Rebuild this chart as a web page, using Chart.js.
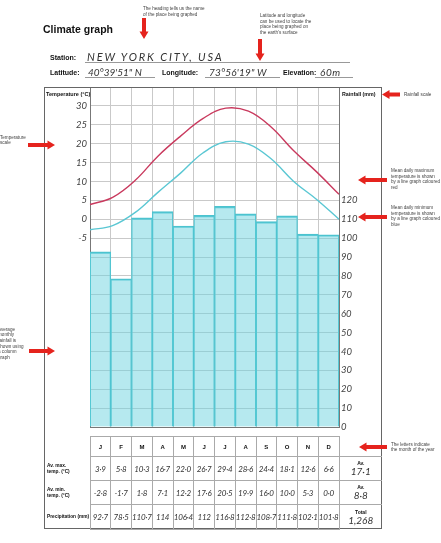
<!DOCTYPE html>
<html>
<head>
<meta charset="utf-8">
<script src="https://cdn.jsdelivr.net/npm/chart.js@4.4.0/dist/chart.umd.min.js"></script>
<style>
  html, body { margin: 0; padding: 0; background: #fff; }
  #page { position: relative; width: 441px; height: 543px; overflow: hidden; font-family: "Liberation Sans", Arial, sans-serif; }
  #grafico { position: absolute; left: 0; top: 0; }
  #dibujo { position: absolute; left: 0; top: 0; pointer-events: none; }
  .t { position: absolute; white-space: nowrap; }
  .nota { font-size: 4.6px; line-height: 5.7px; color: #444; }
  .neg { font-weight: bold; color: #111; }
  .mano { font-family: Lato, "DejaVu Sans", sans-serif; font-style: italic; font-weight: 400; color: #333; }
  #tabla { position: absolute; left: 44px; top: 436px; border-collapse: collapse; table-layout: fixed; }
  #tabla td { padding: 0; text-align: center; white-space: nowrap; overflow: visible; }
  #tabla .mes { border: 1px solid #aaa; }
  #tabla .rot { text-align: left; padding-left: 3px; font-weight: bold; font-size: 4.8px; line-height: 6px; color: #111; }
  #tabla .cab { font-weight: bold; font-size: 6px; color: #111; }
  #tabla .num { font-family: Lato, "DejaVu Sans", sans-serif; font-style: italic; font-weight: 400; font-size: 8px; color: #333; letter-spacing: -0.2px; }
  #tabla .av { border-top: 1px solid #aaa; border-left: 1px solid #999; }
  #tabla .av b { display: block; font-size: 5px; line-height: 6px; color: #111; }
  #tabla .av span { display: block; font-family: Lato, "DejaVu Sans", sans-serif; font-style: italic; font-weight: 400; font-size: 10px; line-height: 11px; color: #333; }
</style>
</head>
<body>
<div id="page">
  <canvas id="grafico" width="441" height="543"></canvas>

  <!-- marco general -->
  <div style="position:absolute;left:44px;top:87px;width:338px;height:442px;border:1px solid #666;box-sizing:border-box;"></div>

  <!-- encabezado -->
  <div class="t neg" style="left:43px;top:23px;font-size:10.5px;line-height:12px;">Climate graph</div>
  <div class="t neg" style="left:50px;top:54px;font-size:7px;line-height:8px;">Station:</div>
  <div class="t mano" style="left:87px;top:50px;font-size:11px;line-height:13px;letter-spacing:1.9px;">NEW YORK CITY, USA</div>
  <div class="t" style="left:85px;top:62px;width:265px;border-top:1px solid #999;"></div>

  <div class="t neg" style="left:50px;top:69px;font-size:7px;line-height:8px;">Latitude:</div>
  <div class="t mano" style="left:88px;top:66px;font-size:10px;line-height:12px;letter-spacing:0px;">40°39'51" N</div>
  <div class="t" style="left:85px;top:77px;width:70px;border-top:1px solid #999;"></div>
  <div class="t neg" style="left:162px;top:69px;font-size:7px;line-height:8px;">Longitude:</div>
  <div class="t mano" style="left:209px;top:66px;font-size:10px;line-height:12px;letter-spacing:0.2px;">73°56'19" W</div>
  <div class="t" style="left:205px;top:77px;width:75px;border-top:1px solid #999;"></div>
  <div class="t neg" style="left:283px;top:69px;font-size:7px;line-height:8px;">Elevation:</div>
  <div class="t mano" style="left:320px;top:66px;font-size:10px;line-height:12px;letter-spacing:0.6px;">60m</div>
  <div class="t" style="left:315px;top:77px;width:38px;border-top:1px solid #999;"></div>

  <!-- titulos de ejes -->
  <div class="t neg" style="left:46px;top:90.5px;font-size:5.5px;line-height:6px;">Temperature (°C)</div>
  <div class="t neg" style="left:342px;top:91px;font-size:5.3px;line-height:6px;">Rainfall (mm)</div>

  <!-- notas -->
  <div class="t nota" style="left:143px;top:6px;">The heading tells us the name<br>of the place being graphed</div>
  <div class="t nota" style="left:260px;top:13px;">Latitude and longitude<br>can be used to locate the<br>place being graphed on<br>the earth's surface</div>
  <div class="t nota" style="left:404px;top:91.5px;">Rainfall scale</div>
  <div class="t nota" style="left:0px;top:134.5px;line-height:5px;">Temperature<br>scale</div>
  <div class="t nota" style="left:391px;top:168px;">Mean daily maximum<br>temperature is shown<br>by a line graph coloured<br>red</div>
  <div class="t nota" style="left:391px;top:205px;">Mean daily minimum<br>temperature is shown<br>by a line graph coloured<br>blue</div>
  <div class="t nota" style="left:-2px;top:326.5px;">Average<br>monthly<br>rainfall is<br>shown using<br>a column<br>graph</div>
  <div class="t nota" style="left:391px;top:441.5px;">The letters indicate<br>the month of the year</div>

  <table id="tabla"></table>

  <svg id="dibujo" width="441" height="543"></svg>
</div>

<script>
// datos de la estación
const months = ['J', 'F', 'M', 'A', 'M', 'J', 'J', 'A', 'S', 'O', 'N', 'D'];
const maxTemp = [3.9, 5.8, 10.3, 16.7, 22.0, 26.7, 29.4, 28.6, 24.4, 18.1, 12.6, 6.6];
const minTemp = [-2.8, -1.7, 1.8, 7.1, 12.2, 17.6, 20.5, 19.9, 16.0, 10.0, 5.3, 0.0];
const rainfall = [92.7, 78.5, 110.7, 114, 106.4, 112, 116.8, 112.8, 108.7, 111.8, 102.1, 101.8];

// etiquetas de los ejes
const tempTicks = [-5, 0, 5, 10, 15, 20, 25, 30];
const rainTicks = [0, 10, 20, 30, 40, 50, 60, 70, 80, 90, 100, 110, 120];

const GRID = '#c9c9c9';
const EDGE = '#777';
const handFont = { family: 'Lato, "DejaVu Sans", sans-serif', style: 'italic', weight: 400, size: 9.5 };

const ctx = document.getElementById('grafico').getContext('2d');

new Chart(ctx, {
  data: {
    labels: months,
    datasets: [
      {
        type: 'line',
        data: maxTemp,
        xAxisID: 'x2',
        yAxisID: 'temp',
        borderColor: '#c93a5e',
        borderWidth: 1.4,
        pointRadius: 0,
        tension: 0.4,
        order: 0
      },
      {
        type: 'line',
        data: minTemp,
        xAxisID: 'x2',
        yAxisID: 'temp',
        borderColor: '#5ac7d3',
        borderWidth: 1.4,
        pointRadius: 0,
        tension: 0.4,
        order: 0
      },
      {
        type: 'bar',
        data: rainfall,
        xAxisID: 'x',
        yAxisID: 'rain',
        backgroundColor: 'rgba(110, 212, 224, 0.5)',
        borderColor: '#4cc3cf',
        borderWidth: { top: 1.5, left: 0.7, right: 0.7, bottom: 0 },
        borderSkipped: false,
        grouped: false,
        barPercentage: 1,
        categoryPercentage: 1,
        order: 1
      }
    ]
  },
  options: {
    responsive: false,
    animation: false,
    devicePixelRatio: 1,
    layout: { padding: { left: 44, top: 87, right: 59, bottom: 116 } },
    datasets: { bar: { barPercentage: 1, categoryPercentage: 1 } },
    plugins: { legend: { display: false }, tooltip: { enabled: false } },
    scales: {
      x: {
        type: 'category',
        offset: true,
        grid: { offset: true, color: GRID, drawTicks: false },
        border: { color: EDGE },
        ticks: { display: false },
        afterFit: s => { s.height = 0; }
      },
      x2: {
        type: 'category',
        offset: false,
        display: false
      },
      temp: {
        position: 'left',
        min: -55,
        max: 35,
        ticks: {
          stepSize: 5,
          padding: 3,
          color: '#444',
          font: handFont,
          callback: v => tempTicks.includes(v) ? v : ''
        },
        grid: { display: false, drawTicks: false },
        border: { color: EDGE },
        afterFit: s => { s.width = 46; }
      },
      rain: {
        position: 'right',
        min: 0,
        max: 180,
        ticks: {
          stepSize: 10,
          padding: 2,
          color: '#444',
          font: handFont,
          callback: v => rainTicks.includes(v) ? v : ''
        },
        grid: { color: GRID, drawTicks: false },
        border: { color: EDGE },
        afterFit: s => { s.width = 43; }
      }
    }
  }
});

// tabla de valores
const fmt = v => (Number.isInteger(v) && Math.abs(v) >= 100 ? String(v) : v.toFixed(1)).replace('.', '·');
const mean = a => a.reduce((s, v) => s + v, 0) / a.length;
const total = rainfall.reduce((s, v) => s + v, 0);

let html = '<colgroup><col style="width:46px">';
months.forEach(() => { html += '<col style="width:20.75px">'; });
html += '<col style="width:43px"></colgroup>';

html += '<tr style="height:20px"><td></td>';
months.forEach(m => { html += `<td class="mes cab">${m}</td>`; });
html += '<td></td></tr>';

const rows = [
  ['Av. max.<br>temp. (°C)', maxTemp, 'Av.', mean(maxTemp).toFixed(1).replace('.', '·'), 24],
  ['Av. min.<br>temp. (°C)', minTemp, 'Av.', mean(minTemp).toFixed(1).replace('.', '·'), 24],
  ['Precipitation (mm)', rainfall, 'Total', Math.round(total).toLocaleString('en-US'), 25]
];
rows.forEach(([label, values, head, summary, h]) => {
  html += `<tr style="height:${h}px"><td class="rot">${label}</td>`;
  values.forEach(v => { html += `<td class="mes num">${fmt(v)}</td>`; });
  html += `<td class="av"><b>${head}</b><span>${summary}</span></td></tr>`;
});
document.getElementById('tabla').innerHTML = html;

// flechas rojas de las notas
function arrow(x1, y1, x2, y2) {
  const dx = x2 - x1, dy = y2 - y1;
  const len = Math.hypot(dx, dy);
  const ux = dx / len, uy = dy / len;
  const px = -uy, py = ux;
  const hl = 7.5, hw = 4.5, sw = 2;
  const bx = x2 - ux * hl, by = y2 - uy * hl;
  const pts = [
    [x1 + px * sw, y1 + py * sw],
    [bx + px * sw, by + py * sw],
    [bx + px * hw, by + py * hw],
    [x2, y2],
    [bx - px * hw, by - py * hw],
    [bx - px * sw, by - py * sw],
    [x1 - px * sw, y1 - py * sw]
  ];
  return `<polygon points="${pts.map(p => p.join(',')).join(' ')}" fill="#e5231d"/>`;
}

document.getElementById('dibujo').innerHTML = [
  arrow(144, 18, 144, 39),
  arrow(260, 39, 260, 61),
  arrow(400, 94.5, 382, 94.5),
  arrow(28, 145, 55, 145),
  arrow(29, 351, 55, 351),
  arrow(387, 180, 358, 180),
  arrow(387, 217, 358, 217),
  arrow(387, 447, 359, 447)
].join('');
</script>
</body>
</html>
